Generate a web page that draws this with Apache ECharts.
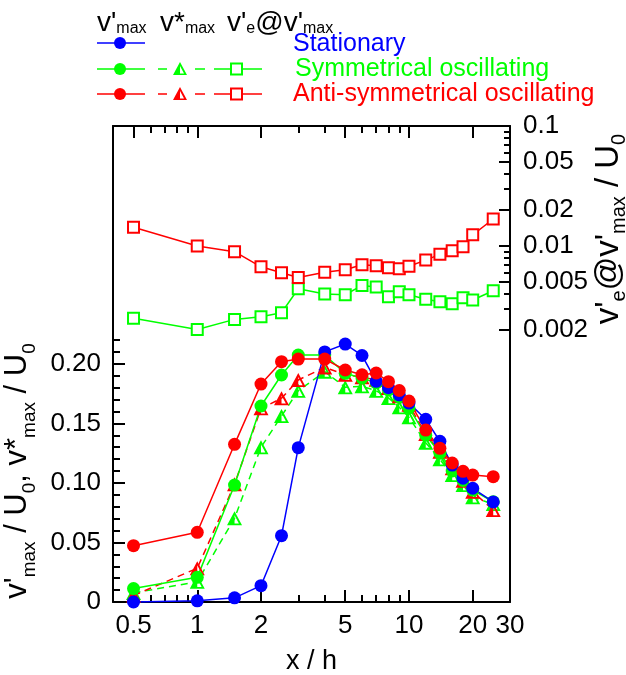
<!DOCTYPE html>
<html>
<head>
<meta charset="utf-8">
<script src="https://cdn.jsdelivr.net/npm/echarts@6/dist/echarts.min.js"></script>
<style>
html, body { margin: 0; padding: 0; background: #fff; }
#chart { width: 626px; height: 675px; }
</style>
</head>
<body>
<div id="chart"></div>
<script>
// x / h positions shared by every series
const xh = [0.5, 1, 1.5, 2, 2.5, 3, 4, 5, 6, 7, 8, 9, 10, 12, 14, 16, 18, 20, 25]

// v'max / U0
const vmaxStationary = [0.000, 0.001, 0.0035, 0.0137, 0.0557, 0.1296, 0.2100, 0.2166, 0.2070, 0.1853, 0.1800, 0.1740, 0.1670, 0.1534, 0.1350, 0.1150, 0.1040, 0.0955, 0.0840]
const vmaxSymmetric = [0.0113, 0.0207, 0.0982, 0.1646, 0.1906, 0.2074, 0.2074, 0.1920, 0.1880, 0.1840, 0.1780, 0.1720, 0.1630, 0.1400, 0.1250, 0.1100, 0.1020, 0.0940, 0.0842]
const vmaxAntisym = [0.0473, 0.0585, 0.1324, 0.1830, 0.2018, 0.2040, 0.2040, 0.1948, 0.1908, 0.1923, 0.1850, 0.1776, 0.1688, 0.1444, 0.1290, 0.1167, 0.1097, 0.1066, 0.1052]

// v*max / U0
const vstarSymmetric = [0.0076, 0.0170, 0.0703, 0.1299, 0.1562, 0.1774, 0.1934, 0.1803, 0.1811, 0.1774, 0.1713, 0.1635, 0.1551, 0.1338, 0.1198, 0.1066, 0.0982, 0.0879, 0.0823]
const vstarAntisym = [0.0055, 0.0283, 0.0988, 0.1626, 0.1710, 0.1864, 0.1970, 0.1909, 0.1887, 0.1867, 0.1797, 0.1727, 0.1657, 0.1411, 0.1262, 0.1123, 0.1018, 0.0926, 0.0772]

// v'e @ v'max / U0 (right log axis)
const veSymmetric = [0.00250, 0.00202, 0.00245, 0.00258, 0.00278, 0.00441, 0.00398, 0.00393, 0.00470, 0.00455, 0.00378, 0.00416, 0.00393, 0.00360, 0.00344, 0.00330, 0.00371, 0.00355, 0.00424]
const veAntisym = [0.01432, 0.01000, 0.00897, 0.00672, 0.00599, 0.00548, 0.00604, 0.00635, 0.00698, 0.00685, 0.00659, 0.00647, 0.00678, 0.00764, 0.00853, 0.00914, 0.00987, 0.01240, 0.01680]

// ticks
const xMajorTicks = [0.5, 1, 2, 5, 10, 20, 30]
const xMinorTicks = [0.6, 0.7, 0.8, 0.9, 3, 4, 6, 7, 8, 9]
const vTicks = [0, 0.05, 0.1, 0.15, 0.2]
const vMinorTicks = [0.01, 0.02, 0.03, 0.04, 0.06, 0.07, 0.08, 0.09, 0.11, 0.12, 0.13, 0.14, 0.16, 0.17, 0.18, 0.19, 0.21, 0.22]
const veTicks = [0.002, 0.005, 0.01, 0.02, 0.05, 0.1]
const veMinorTicks = [0.003, 0.004, 0.006, 0.007, 0.008, 0.009, 0.03, 0.04, 0.06, 0.07, 0.08, 0.09]

const FONT = 'Liberation Sans, Arial, sans-serif'
const BLUE = '#0000ff'
const GREEN = '#00ff00'
const RED = '#ff0000'
// half filled triangle: outer triangle minus the right half of the inner one
const HALF_TRI = 'path://M50,0 L100,100 L0,100 Z M50,29 L50,87 L79,87 Z'

const richTitle = (size, subSize, gap) => ({
  v: { fontSize: size, lineHeight: size + gap, fontFamily: FONT, color: '#000' },
  s: { fontSize: subSize, lineHeight: subSize + 1, verticalAlign: 'bottom', fontFamily: FONT, color: '#000' },
})

const axisLine = { show: true, onZero: false, lineStyle: { color: '#000', width: 2 } }
const noLine = { show: false, onZero: false }
const tickStyle = { color: '#000', width: 2 }

function xAxisPair(gridIndex, position, withLabels) {
  const major = {
    type: 'log', gridIndex, position, min: 0.4, max: 30,
    axisLine,
    axisTick: { show: true, inside: true, length: 12, lineStyle: tickStyle, customValues: xMajorTicks },
    axisLabel: withLabels
      ? { show: true, customValues: xMajorTicks, fontSize: 26, fontFamily: FONT, color: '#000', margin: 11, formatter: (v) => String(v) }
      : { show: false },
    splitLine: { show: false },
  }
  if (withLabels) {
    Object.assign(major, {
      name: 'x / h', nameLocation: 'middle', nameGap: 46,
      nameTextStyle: { fontSize: 27, fontFamily: FONT, color: '#000' },
    })
  }
  const minor = {
    type: 'log', gridIndex, position, min: 0.4, max: 30,
    axisLine: noLine,
    axisTick: { show: true, inside: true, length: 7, lineStyle: tickStyle, customValues: xMinorTicks },
    axisLabel: { show: false },
    splitLine: { show: false },
  }
  return [major, minor]
}

function points(values) {
  return xh.map((x, i) => [x, values[i]])
}

function circleSeries(name, values, color) {
  return {
    name, type: 'line', xAxisIndex: 2, yAxisIndex: 3, data: points(values), clip: false,
    symbol: 'circle', symbolSize: 13,
    lineStyle: { color, width: 1.5 },
    itemStyle: { color },
  }
}

function triangleSeries(name, values, color) {
  return {
    name, type: 'line', xAxisIndex: 2, yAxisIndex: 3, data: points(values), clip: false,
    symbol: HALF_TRI, symbolSize: [15, 14],
    lineStyle: { color, width: 1.5, type: [7, 5] },
    itemStyle: { color },
  }
}

function squareSeries(name, values, color) {
  return {
    name, type: 'line', xAxisIndex: 0, yAxisIndex: 0, data: points(values), clip: false,
    symbol: 'rect', symbolSize: 11,
    lineStyle: { color, width: 1.5 },
    itemStyle: { color: '#fff', borderColor: color, borderWidth: 2 },
  }
}

// legend drawn by hand: one row per case, three marker styles per row
function legendRow(y, color, withOscillation) {
  const items = [
    { type: 'line', shape: { x1: 97, y1: y, x2: 145, y2: y }, style: { stroke: color, lineWidth: 1.5 } },
    { type: 'circle', shape: { cx: 120, cy: y, r: 6 }, style: { fill: color } },
  ]
  if (withOscillation) {
    items.push(
      { type: 'line', shape: { x1: 158, y1: y, x2: 167, y2: y }, style: { stroke: color, lineWidth: 1.5 } },
      { type: 'line', shape: { x1: 195, y1: y, x2: 205, y2: y }, style: { stroke: color, lineWidth: 1.5 } },
      { type: 'polygon', shape: { points: [[180, y - 7], [187, y + 6], [173, y + 6]] }, style: { fill: color } },
      { type: 'polygon', shape: { points: [[180, y - 3], [180, y + 4.5], [184, y + 4.5]] }, style: { fill: '#fff' } },
      { type: 'line', shape: { x1: 214, y1: y, x2: 262, y2: y }, style: { stroke: color, lineWidth: 1.5 } },
      { type: 'rect', shape: { x: 231, y: y - 5.5, width: 11, height: 11 }, style: { fill: '#fff', stroke: color, lineWidth: 2 } },
    )
  }
  return items
}

function legendText(x, y, text, color) {
  return { type: 'text', x, y, style: { text, fill: color, font: '25px ' + FONT, verticalAlign: 'middle' } }
}

function headerText(x, text) {
  return { type: 'text', x, y: 23, style: { text, rich: richTitle(28, 16, 0), verticalAlign: 'middle' } }
}

const option = {
  animation: false,
  backgroundColor: '#fff',
  grid: [
    { left: 113, right: 116, top: 126, height: 214, outerBoundsMode: 'none' },
    { left: 113, right: 116, top: 340, height: 262, outerBoundsMode: 'none' },
  ],
  xAxis: [
    ...xAxisPair(0, 'top', false),
    ...xAxisPair(1, 'bottom', true),
  ],
  yAxis: [
    {
      type: 'log', gridIndex: 0, position: 'right', min: 0.00165, max: 0.1,
      axisLine,
      axisTick: { show: true, inside: true, length: 11, lineStyle: tickStyle, customValues: veTicks },
      axisLabel: { show: true, customValues: veTicks, fontSize: 26, fontFamily: FONT, color: '#000', margin: 13, formatter: (v) => String(v) },
      splitLine: { show: false },
      name: "{v|v'}{s|e}{v|@v'}{s|max}{v| / U}{s|0}",
      nameLocation: 'middle', nameRotate: 90, nameGap: 78, nameMoveOverlap: false,
      nameTextStyle: { rich: richTitle(33, 20, 8), padding: [0, 0, 0, 8] },
    },
    {
      type: 'log', gridIndex: 0, position: 'right', min: 0.00165, max: 0.1,
      axisLine: noLine,
      axisTick: { show: true, inside: true, length: 6, lineStyle: tickStyle, customValues: veMinorTicks },
      axisLabel: { show: false }, splitLine: { show: false },
    },
    {
      type: 'value', gridIndex: 0, position: 'left', min: 0, max: 1,
      axisLine, axisTick: { show: false }, axisLabel: { show: false }, splitLine: { show: false },
    },
    {
      type: 'value', gridIndex: 1, position: 'left', min: 0, max: 0.22,
      axisLine,
      axisTick: { show: true, inside: true, length: 12, lineStyle: tickStyle, customValues: vTicks },
      axisLabel: {
        show: true, customValues: vTicks, fontSize: 26, fontFamily: FONT, color: '#000', margin: 12,
        formatter: (v) => (v === 0 ? '0' : v.toFixed(2)),
      },
      splitLine: { show: false },
      name: "{v|v'}{s|max}{v| / U}{s|0}{v|, v*}{s|max}{v| / U}{s|0}",
      nameLocation: 'middle', nameRotate: 90, nameGap: 66,
      nameTextStyle: { rich: richTitle(31, 19, 14) },
    },
    {
      type: 'value', gridIndex: 1, position: 'left', min: 0, max: 0.22,
      axisLine: noLine,
      axisTick: { show: true, inside: true, length: 7, lineStyle: tickStyle, customValues: vMinorTicks },
      axisLabel: { show: false }, splitLine: { show: false },
    },
    {
      type: 'value', gridIndex: 1, position: 'right', min: 0, max: 1,
      axisLine, axisTick: { show: false }, axisLabel: { show: false }, splitLine: { show: false },
    },
  ],
  series: [
    squareSeries("v'e sym", veSymmetric, GREEN),
    squareSeries("v'e anti", veAntisym, RED),
    triangleSeries('v* sym', vstarSymmetric, GREEN),
    triangleSeries('v* anti', vstarAntisym, RED),
    circleSeries("v' sym", vmaxSymmetric, GREEN),
    circleSeries("v' stationary", vmaxStationary, BLUE),
    circleSeries("v' anti", vmaxAntisym, RED),
  ],
  graphic: [
    headerText(97, "{v|v'}{s|max}"),
    headerText(160, '{v|v*}{s|max}'),
    headerText(227, "{v|v'}{s|e}{v|@v'}{s|max}"),
    ...legendRow(43, BLUE, false),
    ...legendRow(69, GREEN, true),
    ...legendRow(94, RED, true),
    legendText(293, 44, 'Stationary', BLUE),
    legendText(295, 69, 'Symmetrical oscillating', GREEN),
    legendText(293, 94, 'Anti-symmetrical oscillating', RED),
  ],
}

const chart = echarts.init(document.getElementById('chart'))
chart.setOption(option)
</script>
</body>
</html>
